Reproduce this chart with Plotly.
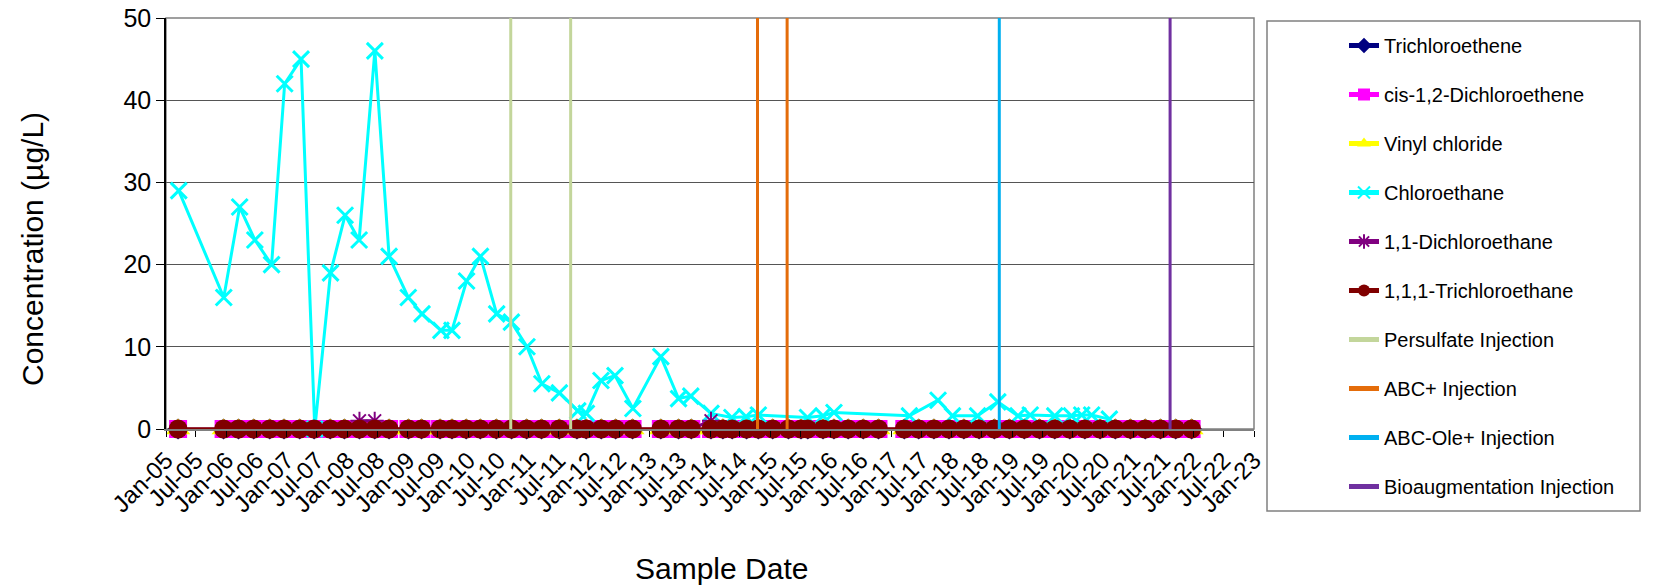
import plotly.graph_objects as go

# ---------------- data ----------------
sample_dates = [
    "2005-03-15", "2005-12-15",
    "2006-03-15", "2006-06-15", "2006-09-20", "2006-12-15",
    "2007-03-20", "2007-06-15", "2007-09-20", "2007-12-15",
    "2008-03-15", "2008-06-15", "2008-09-10", "2009-01-05",
    "2009-03-25", "2009-07-15", "2009-09-25", "2009-12-20",
    "2010-03-15", "2010-06-20", "2010-09-20", "2010-12-20",
    "2011-03-20", "2011-07-05", "2011-10-20", "2011-12-15",
    "2012-03-15", "2012-06-10", "2012-09-20",
    "2013-03-10", "2013-06-25", "2013-09-10", "2014-01-07",
    "2014-03-20", "2014-05-15", "2014-08-10", "2014-10-20",
    "2015-01-15", "2015-04-20", "2015-07-05", "2015-08-15",
    "2015-11-15", "2016-01-20", "2016-04-15", "2016-07-15", "2016-10-15",
    "2017-03-20", "2017-06-15", "2017-09-15", "2017-12-15",
    "2018-03-15", "2018-06-15", "2018-09-15", "2018-12-15",
    "2019-03-15", "2019-06-15", "2019-09-15", "2019-12-15",
    "2020-03-15", "2020-06-15", "2020-09-15", "2020-12-15",
    "2021-03-15", "2021-06-15", "2021-09-15", "2021-12-20",
]

tce = [0] * len(sample_dates)
cis_dce = [0] * len(sample_dates)
vinyl_chloride = [0] * len(sample_dates)
tca_111 = [0] * len(sample_dates)
dca_11 = [0] * len(sample_dates)
dca_11[sample_dates.index("2008-03-15")] = 1.0
dca_11[sample_dates.index("2008-06-15")] = 1.0
dca_11[sample_dates.index("2014-01-07")] = 1.0

ce_dates = [
    "2005-03-19", "2005-12-16", "2006-03-22", "2006-06-22", "2006-10-01",
    "2006-12-19", "2007-03-28", "2007-06-19", "2007-09-22", "2007-12-19",
    "2008-03-13", "2008-06-16", "2008-09-10", "2009-01-04", "2009-03-28",
    "2009-07-20", "2009-09-25", "2009-12-22", "2010-03-16", "2010-06-22",
    "2010-09-19", "2010-12-22", "2011-03-22", "2011-07-06", "2011-10-25",
    "2011-12-16", "2012-03-13", "2012-06-06", "2012-09-22", "2013-03-10",
    "2013-06-25", "2013-09-07", "2014-01-07", "2014-05-13", "2014-08-07",
    "2014-10-20", "2015-08-13", "2015-11-15", "2016-01-20", "2017-04-20",
    "2017-10-10", "2018-01-05", "2018-06-06", "2018-10-06", "2019-02-05",
    "2019-04-20", "2019-09-15", "2019-12-25", "2020-02-25", "2020-04-25",
    "2020-08-10",
]
ce_values = [
    29, 16, 27, 23, 20,
    42, 45, 0, 19, 26,
    23, 46, 21, 16, 14,
    12, 12, 18, 21, 14,
    13, 10, 5.5, 4.4, 2.2,
    1.9, 5.9, 6.5, 2.5, 8.8,
    3.7, 4.0, 1.9, 1.4, 1.5,
    1.7, 1.4, 1.6, 2.0, 1.6,
    3.5, 1.6, 1.6, 3.3, 1.6,
    1.7, 1.6, 1.6, 1.7, 1.7,
    1.2,
]

persulfate_dates = ["2010-09-15", "2011-09-12"]
abc_dates = ["2014-10-15", "2015-04-12"]
abc_ole_dates = ["2018-10-15"]
bioaug_dates = ["2021-08-12"]

y_min, y_max = 0, 50

tick_vals = []
tick_text = []
for yr in range(2005, 2024):
    for mo, nm in ((1, "Jan"), (7, "Jul")):
        if yr == 2023 and mo == 7:
            continue
        tick_vals.append(f"{yr}-{mo:02d}-01")
        tick_text.append(f"{nm}-{str(yr)[2:]}")

FONT = "Arial, Liberation Sans, sans-serif"

# ---------------- figure ----------------
fig = go.Figure()
gap = 20


def add_series(name, x, y, color, symbol, size, lw=3, mline=None):
    marker = dict(symbol=symbol, size=size, color=color)
    if mline is not None:
        marker["line"] = dict(color=color, width=mline)
    fig.add_trace(go.Scatter(
        x=x, y=y, name=name, mode="lines+markers",
        line=dict(color=color, width=lw), marker=marker,
        cliponaxis=False, legendgroup=name,
    ))


add_series("Trichloroethene", sample_dates, tce, "#000080", "diamond", 16)
add_series("cis-1,2-Dichloroethene", sample_dates, cis_dce, "#FF00FF", "square", 18)
add_series("Vinyl chloride", sample_dates, vinyl_chloride, "#FFFF00", "triangle-up", 21)
add_series("Chloroethane", ce_dates, ce_values, "#00FFFF", "x-thin", 16, lw=3, mline=3)
add_series("1,1-Dichloroethane", sample_dates, dca_11, "#800080", "asterisk-open", 15, lw=3, mline=2)
add_series("1,1,1-Trichloroethane", sample_dates, tca_111, "#800000", "circle", 19)


def add_injection(name, dates, color):
    xs, ys = [], []
    for d in dates:
        xs += [d, d, None]
        ys += [y_min, y_max, None]
    fig.add_trace(go.Scatter(
        x=xs, y=ys, name=name, mode="lines",
        line=dict(color=color, width=3), legendgroup=name,
    ))


add_injection("Persulfate Injection", persulfate_dates, "#C3D69B")
add_injection("ABC+ Injection", abc_dates, "#E46C0A")
add_injection("ABC-Ole+ Injection", abc_ole_dates, "#00B0F0")
add_injection("Bioaugmentation Injection", bioaug_dates, "#7030A0")

# page-pixel layout (the page body has an 8px margin at top/left)
OFF = 8
PAGE_W, PAGE_H = 1656, 586
W, H = PAGE_W - OFF, PAGE_H - OFF
L, R, T, B = 166 - OFF, 1254 - OFF, 18 - OFF, 429 - OFF
pw, ph = R - L, B - T


def px(xp):
    return (xp - OFF - L) / pw


def py(yp):
    return (B - (yp - OFF)) / ph


fig.update_layout(
    width=W, height=H,
    margin=dict(l=L, r=W - R, t=T, b=H - B, pad=0, autoexpand=False),
    paper_bgcolor="white", plot_bgcolor="white",
    font=dict(family=FONT, color="black"),
    showlegend=True,
    legend=dict(
        x=px(1344), y=py(26), xanchor="left", yanchor="top",
        font=dict(size=20, family=FONT, color="black"),
        bgcolor="rgba(0,0,0,0)", borderwidth=0, maxheight=560,
        tracegroupgap=gap, itemsizing="constant", traceorder="grouped",
    ),
    xaxis=dict(
        type="date", range=["2005-01-01", "2023-01-01"],
        tickmode="array", tickvals=tick_vals, ticktext=tick_text,
        tickangle=-45, tickfont=dict(size=24, family=FONT),
        ticks="outside", ticklen=6, tickcolor="black", tickwidth=1,
        showline=True, linecolor="#808080", linewidth=1.5,
        showgrid=False, zeroline=False, automargin=False,
        ticklabeloverflow="allow",
    ),
    yaxis=dict(
        range=[y_min, y_max], dtick=10, tick0=0,
        tickfont=dict(size=25, family=FONT),
        ticks="outside", ticklen=8, tickcolor="black", tickwidth=1,
        showline=True, linecolor="black", linewidth=1.5,
        showgrid=True, gridcolor="#555555", gridwidth=1.2,
        zeroline=False, automargin=False, ticklabeloverflow="allow",
    ),
    annotations=[
        dict(text="Sample Date", xref="paper", yref="paper",
             x=px(721), y=py(568), xanchor="center", yanchor="middle",
             showarrow=False, font=dict(size=30, family=FONT, color="black")),
        dict(text="Concentration (µg/L)", xref="paper", yref="paper",
             x=px(32), y=py(249), xanchor="center", yanchor="middle",
             textangle=-90, showarrow=False,
             font=dict(size=30, family=FONT, color="black")),
    ],
    shapes=[
        dict(type="rect", xref="paper", yref="paper", x0=0, x1=1, y0=0, y1=1,
             line=dict(color="#808080", width=1.5), layer="below"),
        dict(type="rect", xref="paper", yref="paper",
             x0=px(1267), x1=px(1640), y0=py(511), y1=py(21),
             line=dict(color="#808080", width=1.5), layer="below"),
    ],
)

fig.write_html("out.html")
